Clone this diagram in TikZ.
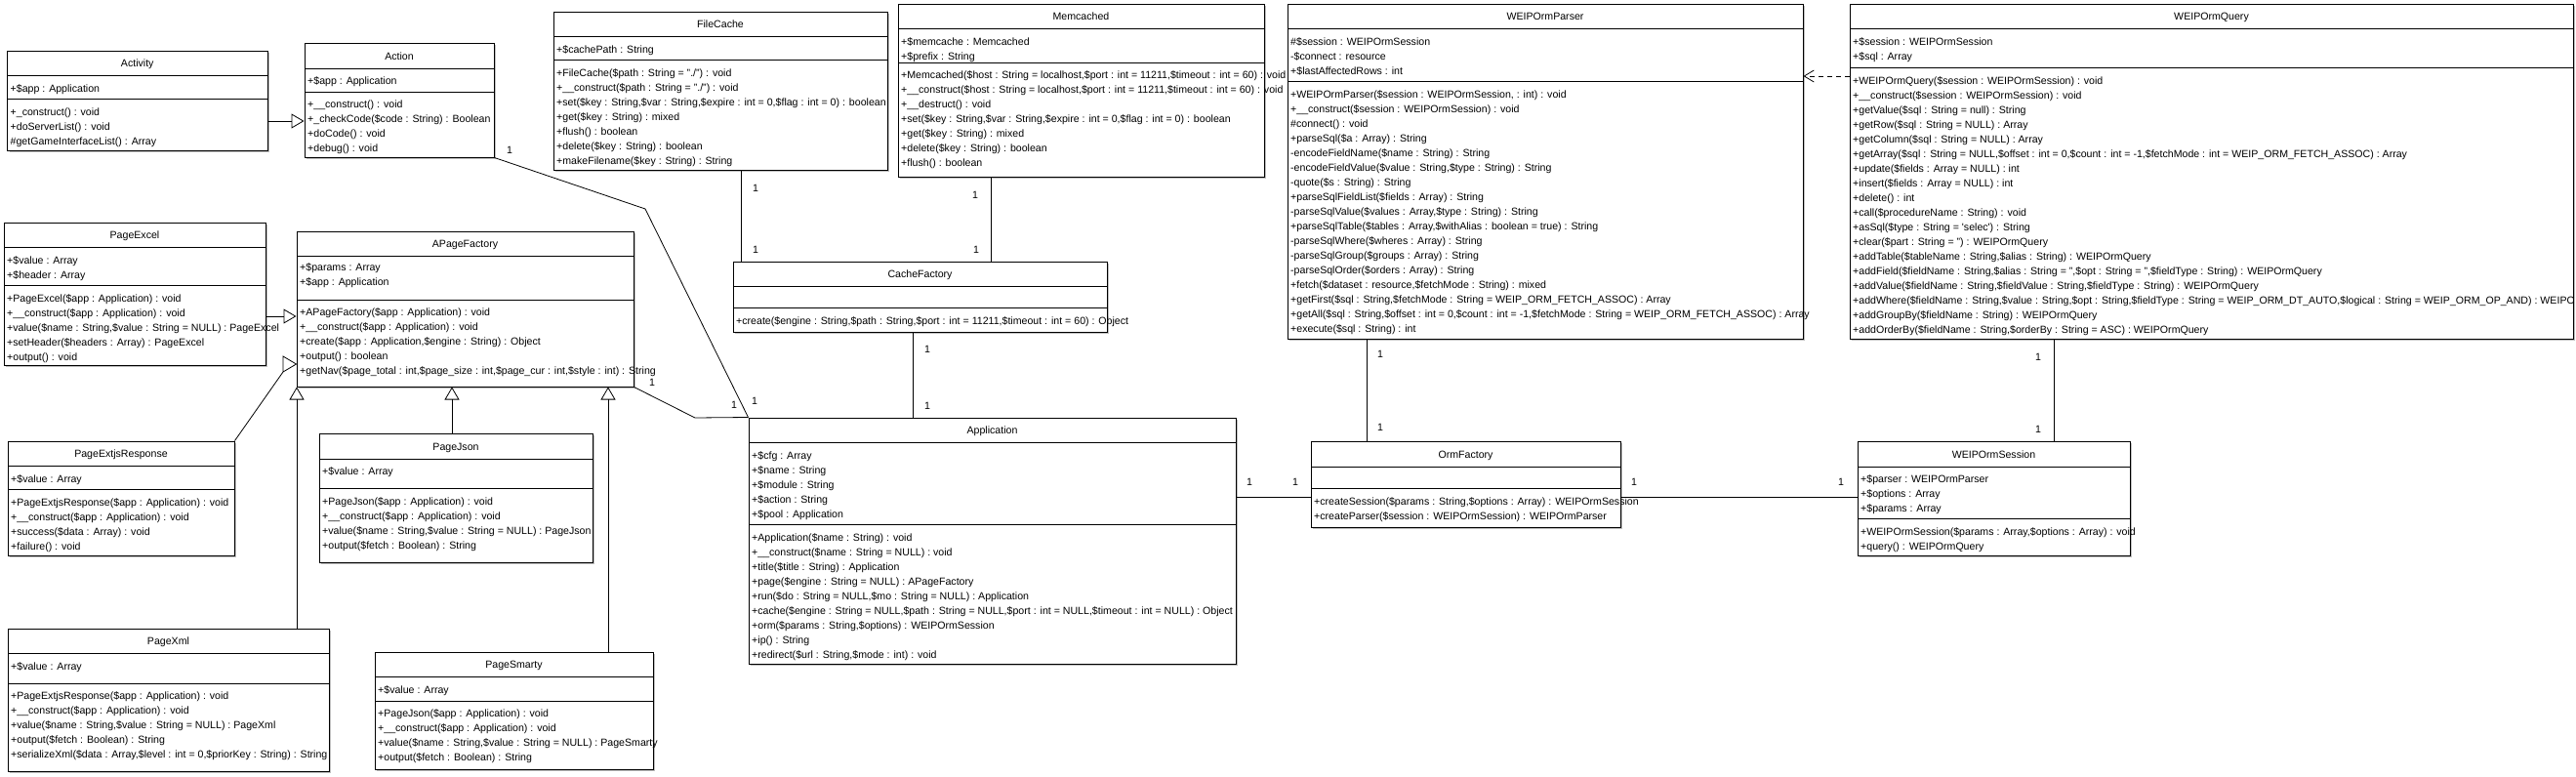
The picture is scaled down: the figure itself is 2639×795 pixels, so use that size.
\documentclass[tikz,border=0pt]{standalone}
\usepackage{fontspec}
\setmainfont{Liberation Sans}
\usetikzlibrary{arrows.meta,fit,shadows}
\newcommand\umlfont{\fontsize{10.6}{13}\selectfont}
\tikzset{
  classbox/.style={draw, line width=1pt, fill=white, inner sep=0pt,
    drop shadow={shadow xshift=2pt, shadow yshift=-2pt, fill=black!25, opacity=1}},
  mtxt/.style={anchor=base west, inner sep=0pt, font=\umlfont},
  ttl/.style={anchor=base, inner sep=0pt, font=\umlfont},
  lbl/.style={inner sep=0pt, font=\umlfont},
  assoc/.style={line width=0.8pt},
  gen/.style={line width=0.8pt, -{Triangle[open, length=13pt, width=15pt]}},
  dep/.style={line width=0.8pt, dash pattern=on 5pt off 4pt, -{Straight Barb[length=10pt, width=12pt]}},
  sepl/.style={line width=1pt}
}
\newcommand\umlclass[8]{%
  \node[classbox, fit={(#2,#3) (#4,#5)}] (#1) {};
  \node[ttl] (#1-t) at ({(#2+#4)/2},{(#3+#7)/2+4}) {#6};
  \draw[sepl] (#2,#7) -- (#4,#7) (#2,#8) -- (#4,#8);
}
\newcommand\umllines[4]{%
  \foreach \t [count=\i] in {#4} {\node[mtxt] (#1-\i) at ({#2},{#3+15*(\i-1)+4}) {\t};}
}
\begin{document}
\begin{tikzpicture}[x=1pt,y=-1pt]
\fill[white] (0,0) rectangle (2639,795);
\useasboundingbox (0,0) rectangle (2639,795);

% Activity
\umlclass{activity}{7.5}{52}{274}{154}{Activity}{77}{101}
\umllines{activityA}{10.5}{90}{+\$app : Application}
\umllines{activityM}{10.5}{114}{+\_construct() : void,+doServerList() : void,\#getGameInterfaceList() : Array}

% Action
\umlclass{action}{312}{44}{506}{161}{Action}{70}{94}
\umllines{actionA}{315}{82}{+\$app : Application}
\umllines{actionM}{315}{106}{+\_\_construct() : void,+\_checkCode(\$code : String) : Boolean,+doCode() : void,+debug() : void}

% FileCache
\umlclass{filecache}{567}{12}{909}{174}{FileCache}{37}{61}
\umllines{filecacheA}{570}{50}{+\$cachePath : String}
\umllines{filecacheM}{570}{74}{+FileCache(\$path : String = "./") : void,+\_\_construct(\$path : String = "./") : void,{+set(\$key : String,\$var : String,\$expire : int = 0,\$flag : int = 0) : boolean},+get(\$key : String) : mixed,+flush() : boolean,+delete(\$key : String) : boolean,+makeFilename(\$key : String) : String}

% Memcached
\umlclass{memcached}{920}{4}{1295}{181}{Memcached}{29}{64}
\umllines{memcachedA}{923}{42}{+\$memcache : Memcached,+\$prefix : String}
\umllines{memcachedM}{923}{76}{{+Memcached(\$host : String = localhost,\$port : int = 11211,\$timeout : int = 60) : void},{+\_\_construct(\$host : String = localhost,\$port : int = 11211,\$timeout : int = 60) : void},+\_\_destruct() : void,{+set(\$key : String,\$var : String,\$expire : int = 0,\$flag : int = 0) : boolean},+get(\$key : String) : mixed,+delete(\$key : String) : boolean,+flush() : boolean}

% WEIPOrmParser
\umlclass{parser}{1319}{4}{1847}{347}{WEIPOrmParser}{29}{83}
\umllines{parserA}{1322}{42}{\#\$session : WEIPOrmSession,-\$connect : resource,+\$lastAffectedRows : int}
\umllines{parserM}{1322}{96}{{+WEIPOrmParser(\$session : WEIPOrmSession, : int) : void},+\_\_construct(\$session : WEIPOrmSession) : void,\#connect() : void,+parseSql(\$a : Array) : String,-encodeFieldName(\$name : String) : String,{-encodeFieldValue(\$value : String,\$type : String) : String},-quote(\$s : String) : String,+parseSqlFieldList(\$fields : Array) : String,{-parseSqlValue(\$values : Array,\$type : String) : String},{+parseSqlTable(\$tables : Array,\$withAlias : boolean = true) : String},-parseSqlWhere(\$wheres : Array) : String,-parseSqlGroup(\$groups : Array) : String,-parseSqlOrder(\$orders : Array) : String,{+fetch(\$dataset : resource,\$fetchMode : String) : mixed},{+getFirst(\$sql : String,\$fetchMode : String = WEIP\_ORM\_FETCH\_ASSOC) : Array},{+getAll(\$sql : String,\$offset : int = 0,\$count : int = -1,\$fetchMode : String = WEIP\_ORM\_FETCH\_ASSOC) : Array},+execute(\$sql : String) : int}

% WEIPOrmQuery
\umlclass{query}{1895}{4}{2636}{347}{WEIPOrmQuery}{29}{69}
\begin{scope}
\clip (1895,4) rectangle (2635.5,347);
\umllines{queryA}{1898}{42}{+\$session : WEIPOrmSession,+\$sql : Array}
\umllines{queryM}{1898}{82}{+WEIPOrmQuery(\$session : WEIPOrmSession) : void,+\_\_construct(\$session : WEIPOrmSession) : void,+getValue(\$sql : String = null) : String,+getRow(\$sql : String = NULL) : Array,+getColumn(\$sql : String = NULL) : Array,{+getArray(\$sql : String = NULL,\$offset : int = 0,\$count : int = -1,\$fetchMode : int = WEIP\_ORM\_FETCH\_ASSOC) : Array},+update(\$fields : Array = NULL) : int,+insert(\$fields : Array = NULL) : int,+delete() : int,+call(\$procedureName : String) : void,+asSql(\$type : String = \textquotesingle selec\textquotesingle) : String,+clear(\$part : String = ") : WEIPOrmQuery,{+addTable(\$tableName : String,\$alias : String) : WEIPOrmQuery},{+addField(\$fieldName : String,\$alias : String = ",\$opt : String = ",\$fieldType : String) : WEIPOrmQuery},{+addValue(\$fieldName : String,\$fieldValue : String,\$fieldType : String) : WEIPOrmQuery},{+addWhere(\$fieldName : String,\$value : String,\$opt : String,\$fieldType : String = WEIP\_ORM\_DT\_AUTO,\$logical : String = WEIP\_ORM\_OP\_AND) : WEIPOrmQuery},+addGroupBy(\$fieldName : String) : WEIPOrmQuery,{+addOrderBy(\$fieldName : String,\$orderBy : String = ASC) : WEIPOrmQuery}}
\end{scope}

% PageExcel
\umlclass{pageexcel}{4}{228}{272}{374}{PageExcel}{253}{292}
\umllines{pageexcelA}{7}{266}{+\$value : Array,+\$header : Array}
\umllines{pageexcelM}{7}{305}{+PageExcel(\$app : Application) : void,+\_\_construct(\$app : Application) : void,{+value(\$name : String,\$value : String = NULL) : PageExcel},+setHeader(\$headers : Array) : PageExcel,+output() : void}

% APageFactory
\umlclass{apf}{304}{237}{649}{396}{APageFactory}{262}{307}
\umllines{apfA}{307}{273}{+\$params : Array,+\$app : Application}
\umllines{apfM}{307}{319}{+APageFactory(\$app : Application) : void,+\_\_construct(\$app : Application) : void,{+create(\$app : Application,\$engine : String) : Object},+output() : boolean,{+getNav(\$page\_total : int,\$page\_size : int,\$page\_cur : int,\$style : int) : String}}

% PageExtjsResponse
\umlclass{extjs}{8}{452}{240}{569}{PageExtjsResponse}{477}{501}
\umllines{extjsA}{11}{490}{+\$value : Array}
\umllines{extjsM}{11}{514}{+PageExtjsResponse(\$app : Application) : void,+\_\_construct(\$app : Application) : void,+success(\$data : Array) : void,+failure() : void}

% PageJson
\umlclass{pagejson}{327}{444}{607}{576}{PageJson}{470}{500}
\umllines{pagejsonA}{330}{482}{+\$value : Array}
\umllines{pagejsonM}{330}{513}{+PageJson(\$app : Application) : void,+\_\_construct(\$app : Application) : void,{+value(\$name : String,\$value : String = NULL) : PageJson},+output(\$fetch : Boolean) : String}

% PageXml
\umlclass{pagexml}{8}{644}{337}{790}{PageXml}{669}{700}
\umllines{pagexmlA}{11}{682}{+\$value : Array}
\umllines{pagexmlM}{11}{712}{+PageExtjsResponse(\$app : Application) : void,+\_\_construct(\$app : Application) : void,{+value(\$name : String,\$value : String = NULL) : PageXml},+output(\$fetch : Boolean) : String,{+serializeXml(\$data : Array,\$level : int = 0,\$priorKey : String) : String}}

% PageSmarty
\umlclass{smarty}{384}{668}{669}{788}{PageSmarty}{693}{718}
\umllines{smartyA}{387}{706}{+\$value : Array}
\umllines{smartyM}{387}{730}{+PageJson(\$app : Application) : void,+\_\_construct(\$app : Application) : void,{+value(\$name : String,\$value : String = NULL) : PageSmarty},+output(\$fetch : Boolean) : String}

% CacheFactory
\umlclass{cachefactory}{751}{268}{1134}{340}{CacheFactory}{293}{315}
\umllines{cachefactoryM}{754}{328}{{+create(\$engine : String,\$path : String,\$port : int = 11211,\$timeout : int = 60) : Object}}

% Application
\umlclass{application}{767}{428}{1266}{680}{Application}{453}{537}
\umllines{applicationA}{770}{466}{+\$cfg : Array,+\$name : String,+\$module : String,+\$action : String,+\$pool : Application}
\umllines{applicationM}{770}{550}{+Application(\$name : String) : void,+\_\_construct(\$name : String = NULL) : void,+title(\$title : String) : Application,+page(\$engine : String = NULL) : APageFactory,{+run(\$do : String = NULL,\$mo : String = NULL) : Application},{+cache(\$engine : String = NULL,\$path : String = NULL,\$port : int = NULL,\$timeout : int = NULL) : Object},{+orm(\$params : String,\$options) : WEIPOrmSession},+ip() : String,{+redirect(\$url : String,\$mode : int) : void}}

% OrmFactory
\umlclass{ormfactory}{1343}{452}{1660}{540}{OrmFactory}{478}{500}
\umllines{ormfactoryM}{1346}{513}{{+createSession(\$params : String,\$options : Array) : WEIPOrmSession},+createParser(\$session : WEIPOrmSession) : WEIPOrmParser}

% WEIPOrmSession
\umlclass{session}{1903}{452}{2182}{569}{WEIPOrmSession}{478}{531}
\umllines{sessionA}{1906}{490}{+\$parser : WEIPOrmParser,+\$options : Array,+\$params : Array}
\umllines{sessionM}{1906}{544}{{+WEIPOrmSession(\$params : Array,\$options : Array) : void},+query() : WEIPOrmQuery}

% connectors
\draw[gen] (activity.east |- 0,124) -- (action.west |- 0,124);
\draw[assoc] (action.south east) -- (661,214) -- (application.north west);
\draw[assoc] (apf.south east) -- (712,428) -- (application.north west);
\draw[assoc] (filecache.south -| 759,0) -- (cachefactory.north -| 759,0);
\draw[assoc] (memcached.south -| 1015,0) -- (cachefactory.north -| 1015,0);
\draw[assoc] (cachefactory.south -| 935,0) -- (application.north -| 935,0);
\draw[assoc] (application.east |- 0,509) -- (ormfactory.west |- 0,509);
\draw[assoc] (parser.south -| 1400,0) -- (ormfactory.north -| 1400,0);
\draw[assoc] (ormfactory.east |- 0,509) -- (session.west |- 0,509);
\draw[assoc] (query.south -| 2104,0) -- (session.north -| 2104,0);
\draw[dep] (query.west |- 0,78) -- (parser.east |- 0,78);
\draw[gen] (pageexcel.east |- 0,324) -- (apf.west |- 0,324);
\draw[assoc] (extjs.north east) -- (290,381) -- (apf.west |- 0,373) -- (290,365) -- (290,381);
\draw[gen] (pagexml.north -| 304,0) -- (apf.south -| 304,0);
\draw[gen] (pagejson.north -| 463,0) -- (apf.south -| 463,0);
\draw[gen] (smarty.north -| 623,0) -- (apf.south -| 623,0);

% multiplicities
\node[lbl] (m1) at (522,154) {1};
\node[lbl] (m2) at (773,411) {1};
\node[lbl] (m3) at (668,392) {1};
\node[lbl] (m4) at (752,415) {1};
\node[lbl] (m5) at (774,193) {1};
\node[lbl] (m6) at (774,256) {1};
\node[lbl] (m7) at (999,200) {1};
\node[lbl] (m8) at (1000,256) {1};
\node[lbl] (m9) at (950,358) {1};
\node[lbl] (m10) at (950,416) {1};
\node[lbl] (m11) at (1280,494) {1};
\node[lbl] (m12) at (1327,494) {1};
\node[lbl] (m13) at (1414,363) {1};
\node[lbl] (m14) at (1414,438) {1};
\node[lbl] (m15) at (1674,494) {1};
\node[lbl] (m16) at (1886,494) {1};
\node[lbl] (m17) at (2088,366) {1};
\node[lbl] (m18) at (2088,440) {1};
\end{tikzpicture}
\end{document}
